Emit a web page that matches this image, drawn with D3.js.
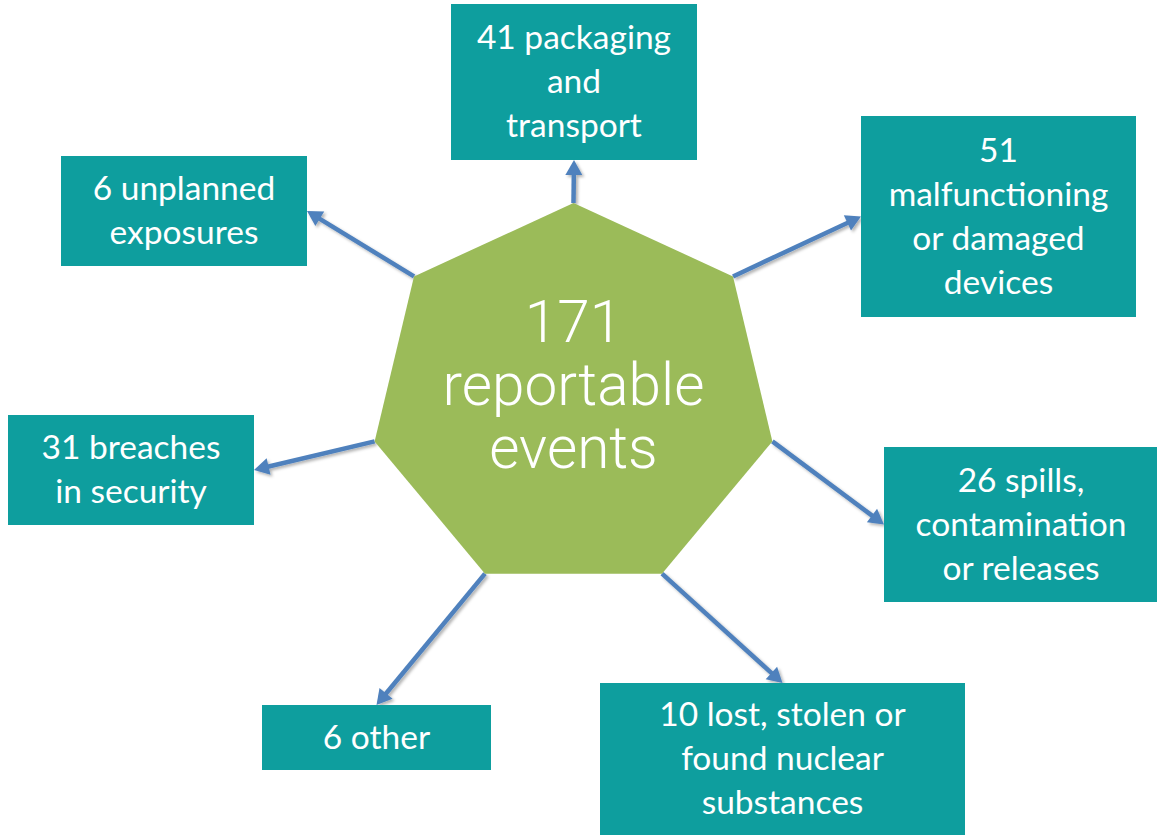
<!DOCTYPE html>
<html>
<head>
<meta charset="utf-8">
<script src="https://cdn.jsdelivr.net/npm/d3@7"></script>
<style>
  html, body { margin: 0; padding: 0; background: #ffffff; }
  svg { display: block; }
</style>
</head>
<body>
<div id="chart"></div>
<script>
// data
const totalCount = 171;
const totalLabel = ["reportable", "events"];
const counts = [41, 51, 26, 10, 6, 31, 6];
const categories = [
  ["packaging", "and", "transport"],
  ["malfunctioning", "or damaged", "devices"],
  ["spills,", "contamination", "or releases"],
  ["lost, stolen or", "found nuclear", "substances"],
  ["other"],
  ["breaches", "in security"],
  ["unplanned", "exposures"]
];
// how the count joins the first line ("br" = own line)
const countJoin = ["inline", "br", "inline", "inline", "inline", "inline", "inline"];

// layout (boxes: x, y, w, h and the side the arrow lands on)
const boxLayout = [
  { x: 451, y: 4, w: 246, h: 156, side: "bottom" },
  { x: 861, y: 116, w: 275, h: 201, side: "left" },
  { x: 884, y: 447, w: 274, h: 155, side: "left" },
  { x: 600, y: 683, w: 365, h: 160, side: "top", textMid: 759 },
  { x: 262, y: 705, w: 229, h: 65, side: "top" },
  { x: 8, y: 415, w: 246, h: 110, side: "right" },
  { x: 61, y: 156, w: 246, h: 110, side: "right" }
];

const width = 1157, height = 835;
const center = { x: 573.5, y: 398, rx: 204, ry: 195 };
const colors = { hept: "#9bbb59", box: "#0e9e9e", arrow: "#4f81bd", text: "#ffffff" };
const boxFont = "Lato, 'Noto Sans', sans-serif";
const lineGap = 44;

const svg = d3.select("#chart").append("svg")
  .attr("width", width)
  .attr("height", height);

const defs = svg.append("defs");
defs.append("filter").attr("id", "shadow")
  .attr("x", "-20%").attr("y", "-20%").attr("width", "140%").attr("height", "140%")
  .append("feDropShadow")
  .attr("dx", 2).attr("dy", 2).attr("stdDeviation", 1.5)
  .attr("flood-color", "#000").attr("flood-opacity", 0.3);

// heptagon vertices, one per category, starting from the top
const angle = d3.scaleLinear().domain([0, 7]).range([0, 2 * Math.PI]);
const verts = d3.range(7).map(i => [
  center.x + center.rx * Math.sin(angle(i)),
  center.y - center.ry * Math.cos(angle(i))
]);

const anchorOf = (b) => {
  if (b.side === "bottom") return [b.x + b.w / 2, b.y + b.h];
  if (b.side === "top") return [b.x + b.w / 2, b.y];
  if (b.side === "left") return [b.x, b.y + b.h / 2];
  return [b.x + b.w, b.y + b.h / 2];
};

const items = counts.map((c, i) => {
  const lines = countJoin[i] === "br"
    ? [String(c)].concat(categories[i])
    : [`${c} ${categories[i][0]}`].concat(categories[i].slice(1));
  return { count: c, lines, box: boxLayout[i], from: verts[i], to: anchorOf(boxLayout[i]) };
});

// arrows
const headLen = 15, headHalf = 8.5;
const arrows = svg.append("g").attr("filter", "url(#shadow)");
items.forEach(d => {
  const [x1, y1] = d.from, [x2, y2] = d.to;
  const len = Math.hypot(x2 - x1, y2 - y1);
  const ux = (x2 - x1) / len, uy = (y2 - y1) / len;
  const bx = x2 - ux * headLen, by = y2 - uy * headLen;
  arrows.append("line")
    .attr("x1", x1).attr("y1", y1)
    .attr("x2", bx + ux * 1).attr("y2", by + uy * 1)
    .attr("stroke", colors.arrow)
    .attr("stroke-width", 4.5);
  arrows.append("path")
    .attr("d", d3.line()([
      [x2, y2],
      [bx - uy * headHalf, by + ux * headHalf],
      [bx + uy * headHalf, by - ux * headHalf]
    ]) + "Z")
    .attr("fill", colors.arrow);
});

// heptagon
svg.append("path")
  .attr("d", d3.line()(verts) + "Z")
  .attr("fill", colors.hept);

svg.append("text")
  .attr("x", center.x)
  .attr("text-anchor", "middle")
  .attr("font-family", "Roboto, sans-serif")
  .attr("font-weight", 300)
  .attr("font-size", 58.5)
  .attr("fill", colors.text)
  .selectAll("tspan")
  .data([String(totalCount)].concat(totalLabel))
  .join("tspan")
  .attr("x", center.x)
  .attr("y", (d, i) => center.y + 7 + (i - 1) * 63)
  .text(d => d);

// boxes
const boxes = svg.append("g").selectAll("g")
  .data(items)
  .join("g");

boxes.append("rect")
  .attr("x", d => d.box.x)
  .attr("y", d => d.box.y)
  .attr("width", d => d.box.w)
  .attr("height", d => d.box.h)
  .attr("fill", colors.box);

boxes.append("text")
  .attr("text-anchor", "middle")
  .attr("font-family", boxFont)
  .attr("font-size", 33.5)
  .attr("fill", colors.text)
  .each(function (d) {
    const mid = d.box.textMid != null ? d.box.textMid : d.box.y + d.box.h / 2;
    const n = d.lines.length;
    d3.select(this).selectAll("tspan")
      .data(d.lines)
      .join("tspan")
      .attr("x", d.box.x + d.box.w / 2)
      .attr("y", (t, i) => mid + 11 + (i - (n - 1) / 2) * lineGap)
      .text(t => t);
  });
</script>
</body>
</html>
